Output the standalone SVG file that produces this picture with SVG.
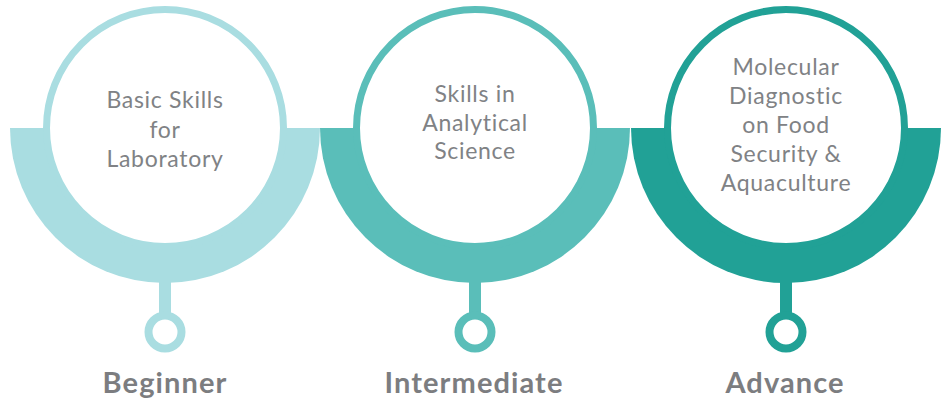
<svg xmlns="http://www.w3.org/2000/svg" width="947" height="402" viewBox="0 0 947 402">
<style>
.body{font-family:Lato,"Open Sans","Liberation Sans",sans-serif;font-size:23px;letter-spacing:0.7px;fill:#808285;text-anchor:middle}
.lvl{font-family:Lato,"Open Sans","Liberation Sans",sans-serif;font-size:29px;letter-spacing:1.1px;font-weight:bold;fill:#7c7d80;text-anchor:middle}
.ring{fill:#fff;stroke-width:7}
.knob{fill:#fff;stroke-width:8}
</style>
<rect width="947" height="402" fill="#fff"/>
<g id="connectors"></g>
<g id="beginner">
<path d="M10 128 A155 155 0 0 0 320 128 Z" fill="#a9dde1"/>
<circle class="ring" cx="165" cy="128" r="118.5" stroke="#a9dde1"/>
<rect x="159" y="278" width="12" height="38" fill="#a9dde1"/>
<circle class="knob" cx="165" cy="332" r="16.5" stroke="#a9dde1"/>
<text class="body" x="165" y="108">Basic Skills</text>
<text class="body" x="165" y="137.5">for</text>
<text class="body" x="165" y="167">Laboratory</text>
<text class="lvl" x="165" y="393">Beginner</text>
</g>
<g id="intermediate">
<path d="M320 128 A155 155 0 0 0 630 128 Z" fill="#5abeb9"/>
<circle class="ring" cx="475" cy="128" r="118.5" stroke="#5abeb9"/>
<rect x="469" y="278" width="12" height="38" fill="#5abeb9"/>
<circle class="knob" cx="475" cy="332" r="16.5" stroke="#5abeb9"/>
<text class="body" x="475" y="102">Skills in</text>
<text class="body" x="475" y="130.5">Analytical</text>
<text class="body" x="475" y="159">Science</text>
<text class="lvl" x="474" y="393">Intermediate</text>
</g>
<g id="advance">
<path d="M631 128 A155 155 0 0 0 941 128 Z" fill="#21a196"/>
<circle class="ring" cx="786" cy="128" r="118.5" stroke="#21a196"/>
<rect x="780" y="278" width="12" height="38" fill="#21a196"/>
<circle class="knob" cx="786" cy="332" r="16.5" stroke="#21a196"/>
<text class="body" x="786" y="75">Molecular</text>
<text class="body" x="786" y="104">Diagnostic</text>
<text class="body" x="786" y="133">on Food</text>
<text class="body" x="786" y="162">Security &amp;</text>
<text class="body" x="786" y="191">Aquaculture</text>
<text class="lvl" x="785" y="393">Advance</text>
</g>
</svg>
